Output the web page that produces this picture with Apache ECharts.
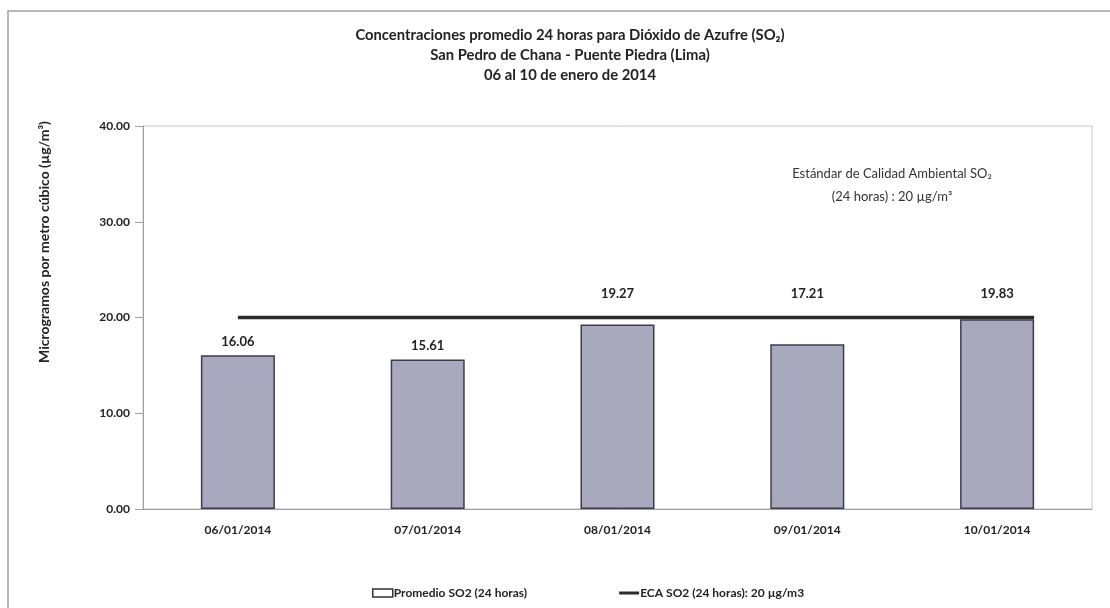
<!DOCTYPE html>
<html>
<head>
<meta charset="utf-8">
<script src="https://cdn.jsdelivr.net/npm/echarts@6/dist/echarts.min.js"></script>
<style>html,body{margin:0;padding:0;background:#fff}#c{width:1110px;height:608px}</style>
</head>
<body>
<div id="c"></div>
<script>
// ---- data ----
const categories = ['06/01/2014', '07/01/2014', '08/01/2014', '09/01/2014', '10/01/2014'];
const so2Values = [16.06, 15.61, 19.27, 17.21, 19.83];
const ecaValue = 20;
const labelAboveStandard = [false, false, true, true, true];
const yTicks = [0, 10, 20, 30, 40];
const seriesNames = ['Promedio SO2 (24 horas)', 'ECA SO2 (24 horas): 20 µg/m3'];

// ---- layout / style ----
const FONT = 'Lato, "Open Sans", sans-serif';
const GRID = { left: 143, right: 18, top: 126, bottom: 99 };
const Y_MIN = 0, Y_MAX = 40;
const PLOT_H = 608 - GRID.top - GRID.bottom;
const PX_PER_UNIT = PLOT_H / (Y_MAX - Y_MIN);
const BAR_FRAC = 0.39;
const LABEL_CENTER_Y = 294;  // lifted labels sit above the standard line
const LABEL_GAP = 13;

const barData = so2Values.map((v, i) => {
  const item = { value: v };
  if (labelAboveStandard[i]) {
    const top = GRID.top + (Y_MAX - v) * PX_PER_UNIT;
    item.label = { offset: [0, LABEL_CENTER_Y - (top - LABEL_GAP)] };
  }
  return item;
});
const lastIdx = categories.length - 1;
const ecaData = [[0, ecaValue], [lastIdx + BAR_FRAC / 2, ecaValue]];

const chart = echarts.init(document.getElementById('c'), null, { renderer: 'canvas' });
chart.setOption({
  animation: false,
  backgroundColor: '#fff',
  textStyle: { fontFamily: FONT },
  title: {
    text: 'Concentraciones promedio 24 horas para Dióxido de Azufre (SO₂)\nSan Pedro de Chana - Puente Piedra (Lima)\n06 al 10 de enero de 2014',
    left: 565, top: 20, textAlign: 'center',
    textStyle: { fontFamily: FONT, fontSize: 14.8, fontWeight: 'bold', color: '#222', lineHeight: 20 }
  },
  graphic: [
    { type: 'polyline', silent: true, shape: { points: [[8, 608], [8, 11], [1110, 11]] },
      style: { stroke: '#a0a0a0', lineWidth: 1.5, fill: null } },
    { type: 'text', x: 44, y: 242, rotation: Math.PI / 2,
      style: { text: 'Microgramos por metro cúbico (µg/m³)', fontFamily: FONT, fontSize: 14, fontWeight: 'bold',
               fill: '#222', textAlign: 'center', textVerticalAlign: 'middle' } },
    { type: 'text', x: 892, y: 174,
      style: { text: 'Estándar de Calidad Ambiental SO₂', fontFamily: FONT, fontSize: 13,
               fill: '#333', textAlign: 'center', textVerticalAlign: 'middle' } },
    { type: 'text', x: 892, y: 197,
      style: { text: '(24 horas) : 20 µg/m³', fontFamily: FONT, fontSize: 13,
               fill: '#333', textAlign: 'center', textVerticalAlign: 'middle' } }
  ],
  legend: {
    left: 367, top: 582, itemGap: 92, itemWidth: 20, itemHeight: 8,
    textStyle: { fontFamily: FONT, fontSize: 12, fontWeight: 'bold', color: '#222', padding: [0, 0, 0, -4] },
    data: [
      { name: seriesNames[0], icon: 'rect', itemStyle: { color: '#fff', borderColor: '#333', borderWidth: 1.5 } },
      { name: seriesNames[1], icon: 'path://M0,0h20v3h-20z', itemStyle: { color: '#2b2b2b' } }
    ]
  },
  grid: { left: GRID.left, right: GRID.right, top: GRID.top, bottom: GRID.bottom,
          show: true, borderColor: '#c4c4c4', borderWidth: 1 },
  xAxis: [
    { type: 'category', data: categories, boundaryGap: true,
      axisLine: { lineStyle: { color: '#a0a0a0', width: 1 } },
      axisTick: { show: false },
      axisLabel: { margin: 15, fontFamily: FONT, fontSize: 12, fontWeight: 'bold', color: '#222' } },
    { type: 'value', min: -0.5, max: lastIdx + 0.5, show: false }
  ],
  yAxis: {
    type: 'value', min: Y_MIN, max: Y_MAX, interval: yTicks[1] - yTicks[0],
    axisLine: { show: true, onZero: false, lineStyle: { color: '#a0a0a0', width: 1 } },
    axisTick: { show: true, length: 8, lineStyle: { color: '#a0a0a0' } },
    splitLine: { show: false },
    axisLabel: { margin: 13, fontFamily: FONT, fontSize: 12, fontWeight: 'bold', color: '#222',
                 formatter: v => v.toFixed(2) }
  },
  series: [
    { name: seriesNames[0], type: 'bar', xAxisIndex: 0, data: barData, barWidth: (BAR_FRAC * 100) + '%',
      itemStyle: { color: '#a9a9bd', borderColor: '#3c3c52', borderWidth: 1.5 },
      label: { show: true, position: 'top', distance: 7, fontFamily: FONT, fontSize: 13, fontWeight: 'bold',
               color: '#222', formatter: p => p.value.toFixed(2) } },
    { name: seriesNames[1], type: 'line', xAxisIndex: 1, data: ecaData, symbol: 'none',
      lineStyle: { color: '#2b2b2b', width: 3.5 }, itemStyle: { color: '#2b2b2b' }, z: 5 }
  ]
});
</script>
</body>
</html>
